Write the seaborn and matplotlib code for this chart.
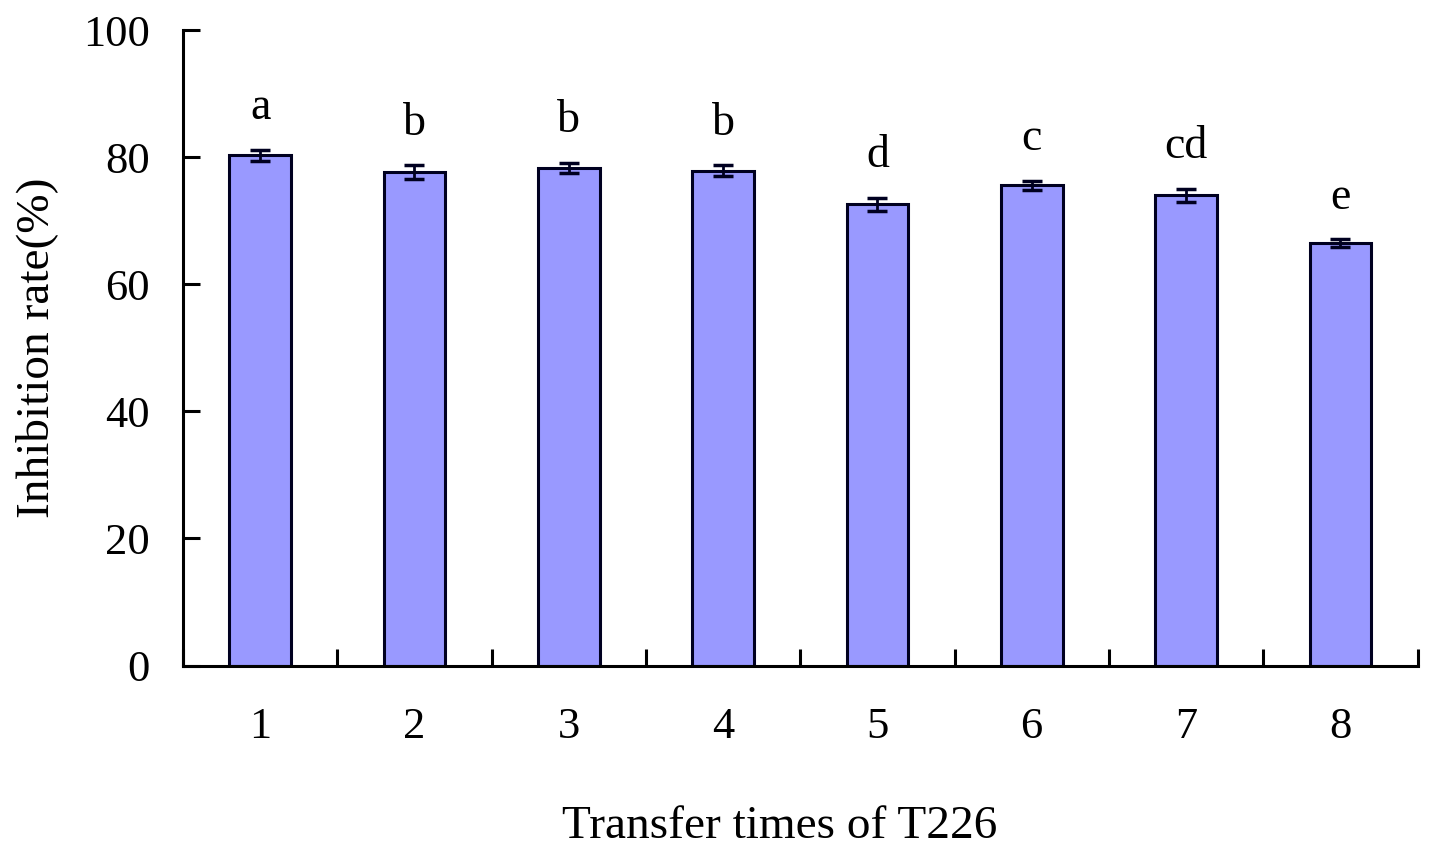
import pandas as pd
import seaborn as sns
import matplotlib.pyplot as plt

# values
transfer_times = ["1", "2", "3", "4", "5", "6", "7", "8"]
inhibition = [80.3, 77.6, 78.3, 77.9, 72.6, 75.6, 74.0, 66.5]
errors = [0.9, 1.1, 0.8, 0.8, 1.0, 0.7, 1.0, 0.6]
letters = ["a", "b", "b", "b", "d", "c", "cd", "e"]

sns.set_style("ticks")
plt.rcParams["font.family"] = ["Liberation Serif", "DejaVu Serif"]
plt.rcParams["font.size"] = 33
plt.rcParams["text.color"] = "black"
plt.rcParams["axes.labelcolor"] = "black"
plt.rcParams["xtick.labelcolor"] = "black"
plt.rcParams["ytick.labelcolor"] = "black"

df = pd.DataFrame({"Transfer": transfer_times, "Inhibition": inhibition})

fig, ax = plt.subplots(figsize=(14.29, 8.61), dpi=100)
fig.subplots_adjust(left=0.128, right=0.992, top=0.965, bottom=0.227)

sns.barplot(
    data=df, x="Transfer", y="Inhibition", ax=ax,
    color="#9999FF", saturation=1, width=0.4,
    edgecolor="#000020", linewidth=2.2, errorbar=None,
)
ax.errorbar(
    range(len(transfer_times)), inhibition, yerr=errors,
    fmt="none", ecolor="#000020", elinewidth=2, capsize=7, capthick=2.5,
)

for i, (v, e, lab) in enumerate(zip(inhibition, errors, letters)):
    ax.annotate(lab, (i, v + e), xytext=(0, 22), textcoords="offset points",
                ha="center", va="baseline", fontsize=33)

ax.set_ylim(0, 100)
ax.set_yticks([0, 20, 40, 60, 80, 100])
ax.set_xlim(-0.5, len(transfer_times) - 0.5)

# x ticks sit between the categories
ax.set_xticks([i + 0.5 for i in range(-1, len(transfer_times))], minor=True)
ax.tick_params(axis="x", which="major", length=0, pad=30)
ax.tick_params(axis="x", which="minor", direction="in", length=12, width=2.2, color="black")
ax.tick_params(axis="y", direction="in", length=12, width=2.2, color="black", pad=24)
ax.tick_params(labelsize=32)

ax.set_xlabel("Transfer times of T226", fontsize=34)
ax.xaxis.set_label_coords(0.483, -0.22)
ax.set_ylabel("Inhibition rate(%)", fontsize=34, labelpad=18)

sns.despine(ax=ax)
for s in ["left", "bottom"]:
    ax.spines[s].set_linewidth(2.2)
    ax.spines[s].set_color("black")

fig.savefig("out.png", dpi=100)
plt.close()
